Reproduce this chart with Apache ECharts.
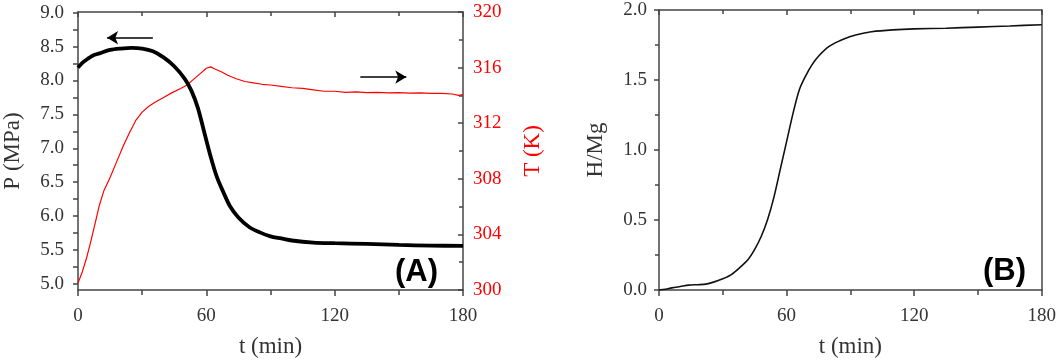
<!DOCTYPE html>
<html>
<head>
<meta charset="utf-8">
<script src="https://cdn.jsdelivr.net/npm/echarts@6/dist/echarts.min.js"></script>
<style>html,body{margin:0;padding:0;background:#fff;}#c{width:1059px;height:363px;}</style>
</head>
<body>
<div id="c"></div>
<script>
// ---- Panel A data ----
const tP = [0,2,5,7,10,15,20,25,30,35,40,45,50,53,56,59,62,65,68,71,75,80,85,90,95,100,110,120,135,150,165,180];
const P  = [8.19,8.26,8.33,8.37,8.40,8.45,8.47,8.48,8.47,8.43,8.34,8.21,8.02,7.85,7.60,7.24,6.88,6.57,6.35,6.15,5.98,5.84,5.76,5.70,5.67,5.64,5.61,5.60,5.59,5.575,5.565,5.56];
const tT = [0,2,4,6,8,10,12,15,18,21,24,27,30,33,36,40,44,48,51,54,57,60,62,64,67,70,74,78,82,86,90,95,100,105,110,115,120,125,130,135,140,145,150,155,160,165,170,175,178,180];
const T  = [300.5,301.3,302.3,303.5,304.8,306.1,307.1,308.1,309.2,310.3,311.3,312.2,312.8,313.2,313.5,313.85,314.2,314.5,314.75,315.15,315.55,315.95,316.05,315.9,315.7,315.45,315.2,315.0,314.9,314.8,314.75,314.65,314.55,314.5,314.4,314.3,314.3,314.22,314.25,314.2,314.22,314.18,314.2,314.16,314.18,314.14,314.15,314.1,314.0,314.05];
const pTickLabels = [5.0,5.5,6.0,6.5,7.0,7.5,8.0,8.5,9.0];
const pTicks = [5.0,5.25,5.5,5.75,6.0,6.25,6.5,6.75,7.0,7.25,7.5,7.75,8.0,8.25,8.5,8.75,9.0];
const arrowLeft  = [[35, 8.63], [13.6, 8.63]];
const arrowRight = [[132, 8.05], [153.5, 8.05]];
// ---- Panel B data ----
const tH = [0,3,6,10,14,18,22,26,30,34,38,42,45,48,51,54,57,60,63,66,69,72,75,80,85,90,95,100,110,120,135,150,165,180];
const H  = [0.0,0.005,0.015,0.025,0.035,0.038,0.042,0.058,0.08,0.11,0.16,0.22,0.29,0.38,0.50,0.66,0.86,1.06,1.26,1.43,1.53,1.61,1.67,1.74,1.78,1.81,1.83,1.845,1.858,1.865,1.87,1.878,1.886,1.895];
const panelLabels = ['(A)', '(B)'];

const zip = (a, b) => a.map((v, i) => [v, b[i]]);
const SERIF = '"Liberation Serif","Times New Roman",serif';
const AX = '#444';
const tickFont = {fontFamily: SERIF, fontSize: 19, color: '#333'};
const nameFont = {fontFamily: SERIF, fontSize: 23, color: '#333'};

function bottomX(grid) {
  return {
    type: 'value', gridIndex: grid, position: 'bottom', min: 0, max: 180, interval: 60,
    axisLine: {show: true, onZero: false, lineStyle: {color: AX, width: 1.5}},
    axisTick: {show: true, inside: false, length: 6, lineStyle: {color: AX, width: 1.5}},
    minorTick: {show: true, splitNumber: 2, length: 5, lineStyle: {color: AX, width: 1.5}},
    axisLabel: Object.assign({margin: 17}, tickFont),
    splitLine: {show: false},
    name: 't (min)', nameLocation: 'middle', nameGap: 45, nameTextStyle: nameFont
  };
}
function topX(grid, ticks) {
  return {
    type: 'value', gridIndex: grid, position: 'top', min: 0, max: 180, interval: 60,
    axisLine: {show: true, onZero: false, lineStyle: {color: AX, width: 1.5}},
    axisTick: {show: ticks, inside: true, length: 5, lineStyle: {color: AX, width: 1.5}},
    minorTick: {show: ticks, splitNumber: 2, length: 4, lineStyle: {color: AX, width: 1.5}},
    axisLabel: {show: false}, splitLine: {show: false}
  };
}

const option = {
  animation: false,
  backgroundColor: '#fff',
  grid: [
    {left: 78, top: 12, width: 385, height: 281},
    {left: 659, top: 10, width: 384, height: 283}
  ],
  xAxis: [bottomX(0), topX(0, true), bottomX(1), topX(1, true)],
  yAxis: [
    {
      type: 'value', gridIndex: 0, position: 'left', min: 4.91, max: 9.01,
      axisLine: {show: true, onZero: false, lineStyle: {color: AX, width: 1.5}},
      axisTick: {show: true, inside: false, length: 5, customValues: pTicks, lineStyle: {color: AX, width: 1.5}},
      axisLabel: Object.assign({margin: 14, customValues: pTickLabels, formatter: v => Number(v).toFixed(1)}, tickFont),
      splitLine: {show: false},
      name: 'P (MPa)', nameLocation: 'middle', nameGap: 54, nameTextStyle: nameFont
    },
    {
      type: 'value', gridIndex: 0, position: 'right', min: 300, max: 320, interval: 4,
      axisLine: {show: true, onZero: false, lineStyle: {color: AX, width: 1.5}},
      axisTick: {show: true, inside: true, length: 5, lineStyle: {color: AX, width: 1.5}},
      minorTick: {show: true, splitNumber: 2, length: 4, lineStyle: {color: AX, width: 1.5}},
      axisLabel: Object.assign({}, tickFont, {margin: 10, color: '#ff0000'}),
      splitLine: {show: false},
      name: 'T (K)', nameLocation: 'middle', nameGap: 58,
      nameTextStyle: Object.assign({}, nameFont, {color: '#ff0000'})
    },
    {
      type: 'value', gridIndex: 1, position: 'left', min: 0, max: 2, interval: 0.5,
      axisLine: {show: true, onZero: false, lineStyle: {color: AX, width: 1.5}},
      axisTick: {show: true, inside: false, length: 5, lineStyle: {color: AX, width: 1.5}},
      minorTick: {show: true, splitNumber: 2, length: 4, lineStyle: {color: AX, width: 1.5}},
      axisLabel: Object.assign({margin: 12, formatter: v => Number(v).toFixed(1)}, tickFont),
      splitLine: {show: false},
      name: 'H/Mg', nameLocation: 'middle', nameGap: 52, nameTextStyle: nameFont
    },
    {
      type: 'value', gridIndex: 1, position: 'right', min: 0, max: 2, interval: 0.5,
      axisLine: {show: true, onZero: false, lineStyle: {color: AX, width: 1.5}},
      axisTick: {show: false}, axisLabel: {show: false}, splitLine: {show: false}
    }
  ],
  series: [
    {
      type: 'line', xAxisIndex: 0, yAxisIndex: 1, data: zip(tT, T), showSymbol: false,
      smooth: false, lineStyle: {color: '#ff0000', width: 1.2}, z: 3
    },
    {
      type: 'line', xAxisIndex: 0, yAxisIndex: 0, data: zip(tP, P), showSymbol: false,
      smooth: 0.3, lineStyle: {color: '#000', width: 3.8}, z: 4,
      markLine: {
        silent: true, symbol: ['none', 'arrow'], symbolSize: [10, 11],
        label: {show: false},
        lineStyle: {color: '#000', width: 1.5, type: 'solid'},
        data: [
          [{coord: arrowLeft[0]}, {coord: arrowLeft[1]}],
          [{coord: arrowRight[0]}, {coord: arrowRight[1]}]
        ]
      }
    },
    {
      type: 'line', xAxisIndex: 2, yAxisIndex: 2, data: zip(tH, H), showSymbol: false,
      smooth: 0.3, lineStyle: {color: '#111', width: 1.6}, z: 3
    }
  ],
  graphic: [
    {type: 'text', left: 395, top: 257, style: {text: panelLabels[0], font: 'bold 31px "Liberation Sans", Arial, sans-serif', fill: '#000'}},
    {type: 'text', left: 983, top: 256, style: {text: panelLabels[1], font: 'bold 31px "Liberation Sans", Arial, sans-serif', fill: '#000'}}
  ]
};

const chart = echarts.init(document.getElementById('c'), null, {renderer: 'canvas'});
chart.setOption(option);
</script>
</body>
</html>
